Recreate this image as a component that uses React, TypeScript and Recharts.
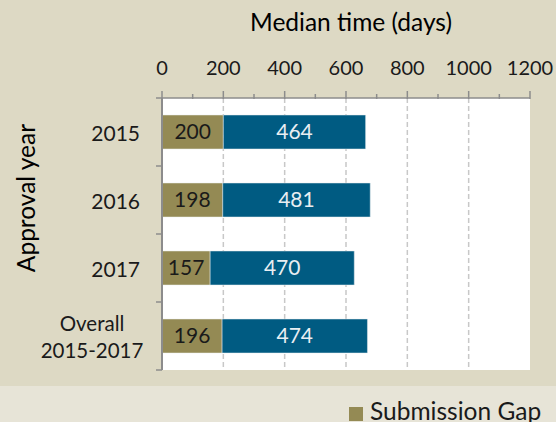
import React from 'react';
import { BarChart, Bar, XAxis, YAxis, CartesianGrid, LabelList } from 'recharts';

const categories = ['2015', '2016', '2017', 'Overall\n2015-2017'];
const submissionGap = [200, 198, 157, 196];
const reviewTime = [464, 481, 470, 474];
const xTicks = [0, 100, 200, 300, 400, 500, 600, 700, 800, 900, 1000, 1100, 1200];
const gridValues = [200, 400, 600, 800, 1000];
const seriesNames = ['Submission Gap', 'Review Time'];

const data = categories.map((c, i) => ({ name: c, gap: submissionGap[i], review: reviewTime[i] }));

const FONT = 'Lato, "Open Sans", sans-serif';
const OLIVE = '#948a54';
const BLUE = '#005b82';
const AXIS = '#8c8c8c';
const TEXT = '#1a1a1a';

const TopTick = (props: any) => {
  const { x, y, payload } = props;
  const major = payload.value % 200 === 0;
  return (
    <g>
      <line x1={x} x2={x} y1={y + 1} y2={y - (major ? 7 : 4)} stroke={AXIS} strokeWidth={1.5} />
      {major && (
        <text x={x} y={y - 31} textAnchor="middle" dominantBaseline="central" fontSize={20} fill={TEXT} fontFamily={FONT}>
          {payload.value}
        </text>
      )}
    </g>
  );
};

const LeftTick = (props: any) => {
  const { x, y, payload, index, visibleTicksCount } = props;
  const band = 68;
  const lines = String(payload.value).split('\n');
  const last = index === visibleTicksCount - 1;
  return (
    <g>
      <line x1={x} x2={x - 6} y1={y - band / 2} y2={y - band / 2} stroke={AXIS} strokeWidth={1.5} />
      {last && <line x1={x} x2={x - 6} y1={y + band / 2} y2={y + band / 2} stroke={AXIS} strokeWidth={1.5} />}
      {lines.length === 1 ? (
        <text x={x - 22} y={y} textAnchor="end" dominantBaseline="central" fontSize={21} fill={TEXT} fontFamily={FONT}>
          {lines[0]}
        </text>
      ) : (
        lines.map((l, i) => (
          <text key={i} x={x - 70} y={y - 13 + i * 27} textAnchor="middle" dominantBaseline="central" fontSize={20.5} fill={TEXT} fontFamily={FONT}>
            {l}
          </text>
        ))
      )}
    </g>
  );
};

const YLabel = (props: any) => {
  const { viewBox } = props;
  const cx = 25;
  const cy = viewBox.y + viewBox.height / 2 - 36;
  return (
    <text x={cx} y={cy} transform={`rotate(-90 ${cx} ${cy})`} textAnchor="middle" dominantBaseline="central" fontSize={24.5} fill="#000" fontFamily={FONT}>
      Approval year
    </text>
  );
};

const XLabel = (props: any) => {
  const { viewBox } = props;
  const cx = viewBox.x + viewBox.width / 2 + 5;
  return (
    <text x={cx} y={21} textAnchor="middle" dominantBaseline="central" fontSize={24.5} fill="#000" fontFamily={FONT}>
      Median time (days)
    </text>
  );
};

export default function App() {
  return (
    <div
      style={{
        position: 'fixed',
        left: 0,
        top: 0,
        width: 556,
        height: 422,
        overflow: 'hidden',
        background: 'linear-gradient(#ddd9c4 0px, #ddd9c4 386px, #e7e4d7 386px, #e7e4d7 422px)',
      }}
    >
      <BarChart
        width={556}
        height={422}
        data={data}
        layout="vertical"
        margin={{ top: 0, right: 26, bottom: 52, left: 0 }}
        barCategoryGap="25%"
      >
        <CartesianGrid
          fill="#ffffff"
          horizontal={false}
          vertical
          verticalValues={gridValues}
          stroke="#c8c8c8"
          strokeDasharray="5 3"
          strokeWidth={1.5}
        />
        <XAxis
          type="number"
          orientation="top"
          domain={[0, 1200]}
          ticks={xTicks}
          interval={0}
          height={98}
          tickSize={0}
          tickMargin={0}
          tickLine={false}
          axisLine={{ stroke: AXIS, strokeWidth: 1.5 }}
          tick={<TopTick />}
          label={<XLabel />}
        />
        <XAxis
          xAxisId="bottom"
          type="number"
          orientation="bottom"
          domain={[0, 1200]}
          height={0}
          tick={false}
          tickLine={false}
          axisLine={{ stroke: '#a6a6a6', strokeWidth: 1.5 }}
        />
        <YAxis
          type="category"
          dataKey="name"
          width={162}
          tickSize={0}
          tickMargin={0}
          tickLine={false}
          interval={0}
          axisLine={{ stroke: AXIS, strokeWidth: 2 }}
          tick={<LeftTick />}
          label={<YLabel />}
        />
        <YAxis
          yAxisId="right"
          type="category"
          dataKey="name"
          orientation="right"
          width={0}
          tick={false}
          tickLine={false}
          axisLine={{ stroke: '#a6a6a6', strokeWidth: 1.5 }}
        />
        <Bar dataKey="gap" name={seriesNames[0]} stackId="a" fill={OLIVE} stroke="#e8ecee" strokeWidth={0.5} isAnimationActive={false}>
          <LabelList dataKey="gap" position="center" fill={TEXT} fontSize={21} fontFamily={FONT} />
        </Bar>
        <Bar dataKey="review" name={seriesNames[1]} stackId="a" fill={BLUE} stroke="#e8ecee" strokeWidth={0.5} isAnimationActive={false}>
          <LabelList dataKey="review" position="center" fill="#e9eef2" fontSize={21} fontFamily={FONT} />
        </Bar>
      </BarChart>
      <div
        style={{
          position: 'absolute',
          left: 349,
          top: 396,
          whiteSpace: 'nowrap',
          display: 'flex',
          alignItems: 'center',
          fontFamily: FONT,
          fontSize: 24.5,
          color: TEXT,
        }}
      >
        <span style={{ display: 'inline-block', width: 14, height: 14, background: OLIVE, marginRight: 7, marginTop: 6 }} />
        <span>{seriesNames[0]}</span>
      </div>
    </div>
  );
}
